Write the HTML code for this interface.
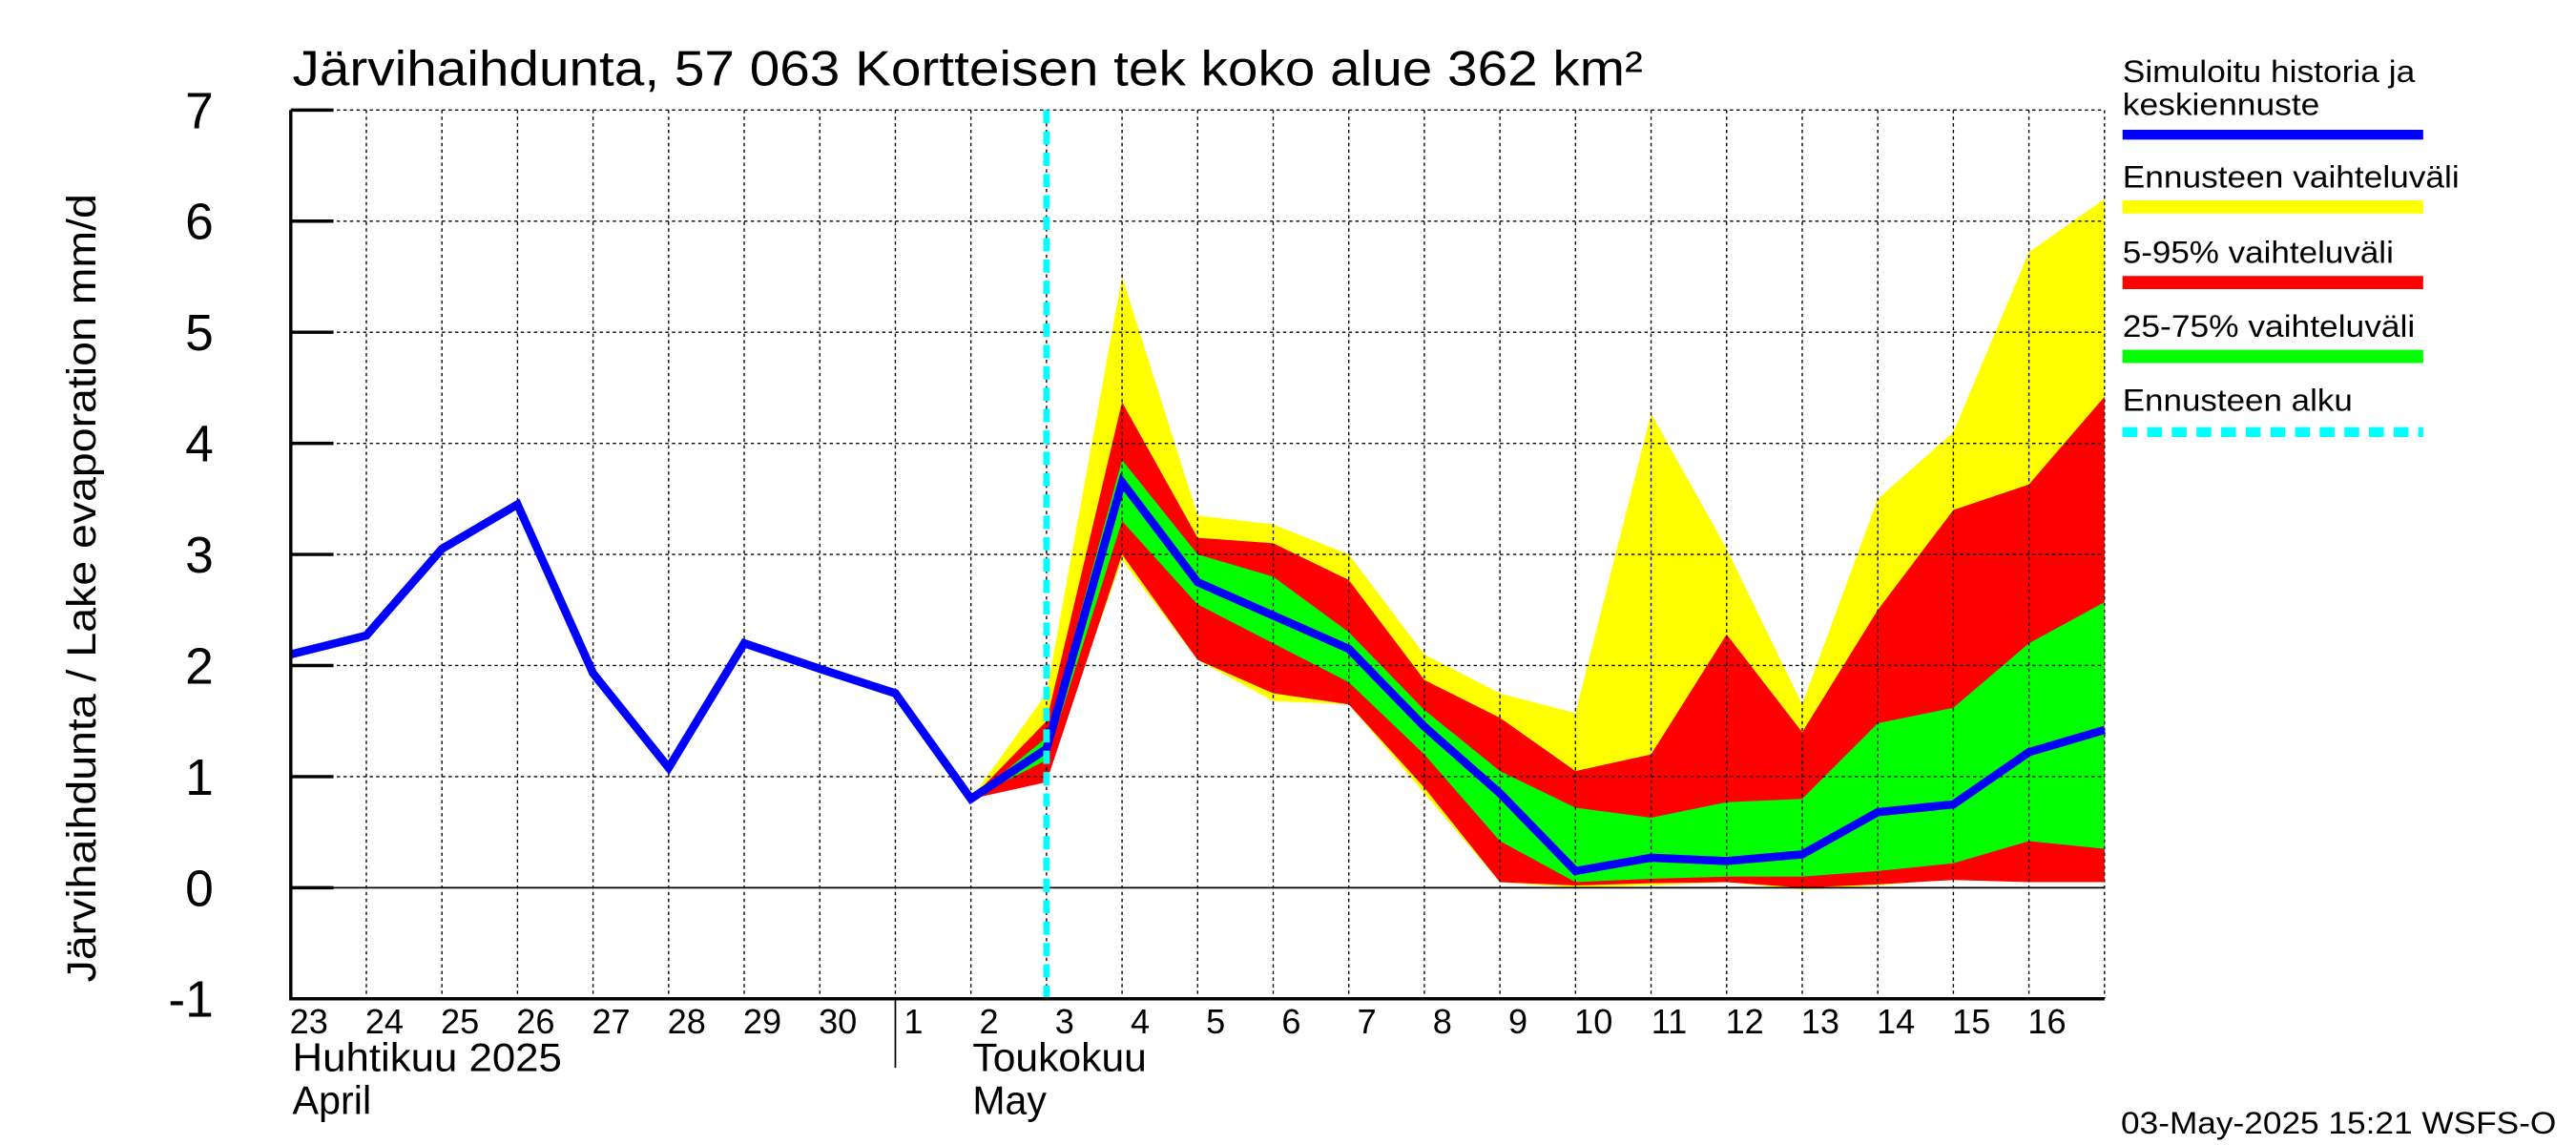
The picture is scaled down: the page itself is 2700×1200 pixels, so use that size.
<!DOCTYPE html>
<html><head><meta charset="utf-8"><style>
html,body{margin:0;padding:0;background:#fff;}
svg{display:block;font-family:"Liberation Sans",sans-serif;}
</style></head><body>
<svg id="chart" width="2700" height="1200" viewBox="0 0 1568 697" preserveAspectRatio="none" xmlns="http://www.w3.org/2000/svg">
<rect width="1568" height="697" fill="#fff"/>
<g id="bands"></g>
<g id="grid"></g>
<g id="lines"></g>
<g id="axes"></g>
<text x="178" y="52" font-size="30" textLength="822" lengthAdjust="spacingAndGlyphs">Järvihaihdunta, 57 063 Kortteisen tek koko alue 362 km²</text>
<text transform="translate(58,358) rotate(-90)" text-anchor="middle" font-size="25" textLength="480" lengthAdjust="spacingAndGlyphs">Järvihaihdunta / Lake evaporation   mm/d</text>
<g font-size="19">
<text x="1292" y="50" textLength="178" lengthAdjust="spacingAndGlyphs">Simuloitu historia ja</text>
<text x="1292" y="70" textLength="120" lengthAdjust="spacingAndGlyphs">keskiennuste</text>
<rect x="1292" y="79" width="183" height="6" fill="#0000ff"/>
<text x="1292" y="114" textLength="205" lengthAdjust="spacingAndGlyphs">Ennusteen vaihteluväli</text>
<rect x="1292" y="122" width="183" height="8" fill="#ffff00"/>
<text x="1292" y="160" textLength="165" lengthAdjust="spacingAndGlyphs">5-95% vaihteluväli</text>
<rect x="1292" y="168" width="183" height="8" fill="#ff0000"/>
<text x="1292" y="205" textLength="178" lengthAdjust="spacingAndGlyphs">25-75% vaihteluväli</text>
<rect x="1292" y="213" width="183" height="8" fill="#00ff00"/>
<text x="1292" y="250" textLength="140" lengthAdjust="spacingAndGlyphs">Ennusteen alku</text>
<line x1="1292" y1="263" x2="1475" y2="263" stroke="#00ffff" stroke-width="6" stroke-dasharray="9,6"/>
</g>
<text x="1291" y="690" font-size="19" textLength="265" lengthAdjust="spacingAndGlyphs">03-May-2025 15:21 WSFS-O</text>
</svg>
<script>
const dayLabels=["23","24","25","26","27","28","29","30","1","2","3","4","5","6","7","8","9","10","11","12","13","14","15","16"];
const yTicks=[-1,0,1,2,3,4,5,6,7];
const history=[2.1,2.27,3.05,3.45,1.93,1.08,2.2,1.97,1.75,0.8,1.25,3.65,2.75,2.45,2.15,1.45,0.85,0.15,0.27,0.24,0.3,0.68,0.75,1.22,1.42];
const bandStart=9;
const yellowTop=[0.8,1.75,5.5,3.35,3.27,3.0,2.1,1.75,1.57,4.27,3.05,1.65,3.5,4.1,5.72,6.2];
const yellowBot=[0.8,1.05,2.95,2.05,1.68,1.65,0.85,0.05,0.0,0.02,0.05,-0.02,0.02,0.08,0.05,0.05];
const redTop=[0.8,1.5,4.37,3.15,3.1,2.77,1.87,1.53,1.05,1.2,2.28,1.4,2.5,3.4,3.63,4.42];
const redBot=[0.8,0.95,3.0,2.05,1.75,1.65,0.9,0.05,0.02,0.04,0.05,0.0,0.03,0.07,0.05,0.05];
const greenTop=[0.8,1.35,3.85,3.0,2.8,2.3,1.6,1.05,0.72,0.63,0.77,0.8,1.48,1.62,2.2,2.57];
const greenBot=[0.8,1.15,3.3,2.55,2.2,1.85,1.2,0.42,0.05,0.08,0.1,0.1,0.15,0.22,0.42,0.35];
const forecastIndex=10;

const NS="http://www.w3.org/2000/svg";
const X0=177,X1=1281,Y7=67,YM1=608;
const dayW=(X1-X0)/24;
function xs(i){return X0+i*dayW;}
function ys(v){return YM1-(v+1)*(YM1-Y7)/8;}
function mk(tag,attrs,parent){const e=document.createElementNS(NS,tag);for(const k in attrs)e.setAttribute(k,attrs[k]);parent.appendChild(e);return e;}
const bands=document.getElementById('bands'),grid=document.getElementById('grid'),lines=document.getElementById('lines'),axes=document.getElementById('axes');
function band(top,bot,color,name){
  let pts=[];
  for(let i=0;i<top.length;i++)pts.push(xs(bandStart+i)+','+ys(top[i]));
  for(let i=bot.length-1;i>=0;i--)pts.push(xs(bandStart+i)+','+ys(bot[i]));
  const p=mk('polygon',{points:pts.join(' '),fill:color},bands);
  
  
}
band(yellowTop,yellowBot,'#ffff00','band-range');
band(redTop,redBot,'#ff0000','band-5-95');
band(greenTop,greenBot,'#00ff00','band-25-75');
yTicks.forEach(v=>{
  if(v>-1){const l=mk('line',{x1:X0,x2:X1,y1:ys(v),y2:ys(v),stroke:'#000','stroke-width':v===0?1:0.8,'stroke-dasharray':v===0?'none':'2,2'},grid);
  
  }
  const t=mk('text',{x:130,y:ys(v)+11,'font-size':31,'text-anchor':'end'},axes);t.textContent=v;
  
  
  const tk=mk('line',{x1:X0,x2:X0+26,y1:ys(v),y2:ys(v),stroke:'#000','stroke-width':2},axes);
  
  
});
for(let i=1;i<=24;i++){
  const l=mk('line',{x1:xs(i),x2:xs(i),y1:Y7,y2:YM1,stroke:'#000','stroke-width':0.8,'stroke-dasharray':'2,2'},grid);
  
  
}
dayLabels.forEach((d,i)=>{
  const t=mk('text',{x:xs(i)+11,y:629,'font-size':21,'text-anchor':'middle'},axes);t.textContent=d;
  
  
});
let hp=history.map((v,i)=>xs(i)+','+ys(v)).join(' ');
const hl=mk('polyline',{points:hp,fill:'none',stroke:'#0000ff','stroke-width':5,'stroke-linejoin':'miter'},lines);


const fl=mk('line',{x1:xs(forecastIndex),x2:xs(forecastIndex),y1:Y7,y2:YM1,stroke:'#00ffff','stroke-width':4,'stroke-dasharray':'8,5'},lines);


const ax=mk('path',{d:`M${X0},${Y7} L${X0},${YM1} L${X1},${YM1}`,fill:'none',stroke:'#000','stroke-width':2},axes);


const ms=mk('line',{x1:xs(8),x2:xs(8),y1:YM1,y2:650,stroke:'#000','stroke-width':1},axes);


[["Huhtikuu  2025",178,652,164],["April",178,678,48],["Toukokuu",592,652,106],["May",592,678,45]].forEach(a=>{
  const t=mk('text',{x:a[1],y:a[2],'font-size':24,textLength:a[3],lengthAdjust:'spacingAndGlyphs'},axes);t.textContent=a[0];
  
  
});
</script>
</body></html>
